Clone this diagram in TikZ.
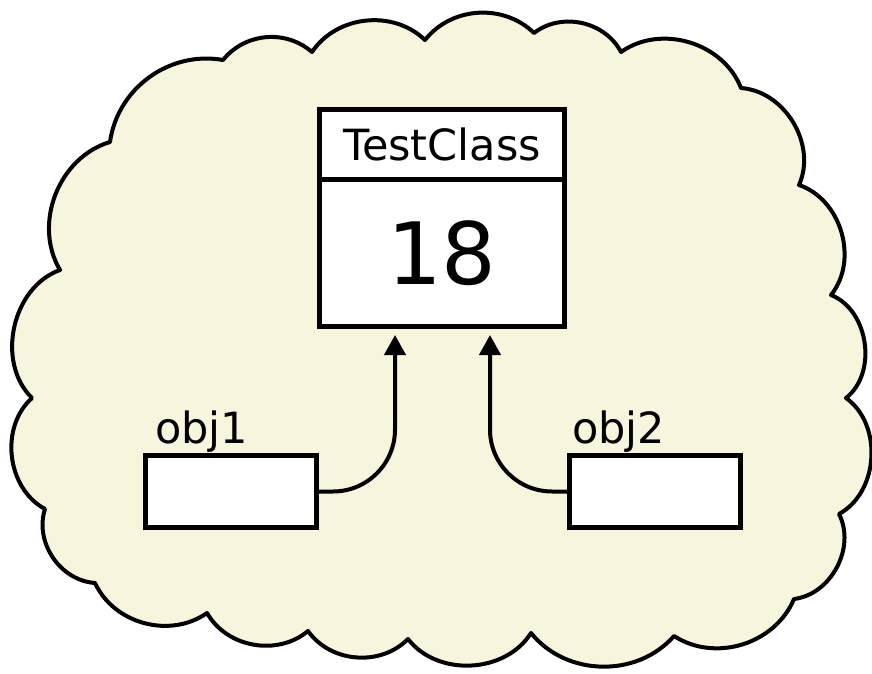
\documentclass[tikz,border=0pt]{standalone}
\usepackage{fontspec}
\setmainfont{DejaVu Sans}
\usetikzlibrary{arrows.meta, positioning}
\definecolor{cloudfill}{HTML}{F6F5DE}

\begin{document}
\begin{tikzpicture}[x=1pt, y=1pt,
				box/.style={draw, line width=5pt, fill=white, outer sep=0pt, inner sep=0pt},
				lbl/.style={inner sep=0pt, font=\fontsize{43}{50}\selectfont},
				puff/.style={bend left=#1}, puff/.default=52,
				arrow/.style={-{Triangle[length=20pt, width=21pt]}, line width=4pt, rounded corners=62pt}]
				\useasboundingbox (0,0) rectangle (872,673);
				
				% the cloud
				\draw[line width=4pt, fill=cloudfill, line join=round]
				  (223,613) to[puff=46] (312,621) to[puff=50] (425,633) to[puff=48] (534,640)
				  to[puff=50] (621,621) to[puff=52] (741,585) to[puff=55] (799,488)
				  to[puff=55] (831,378) to[puff=60] (846,275) to[puff=58] (839,159)
				  to[puff=55] (794,74) to[puff=50] (674,37) to[puff=50] (531,40)
				  to[puff=55] (408,34) to[puff=50] (308,42) to[puff=50] (207,60)
				  to[puff=50] (95,90) to[puff=52] (45,164) to[puff=55] (32,275)
				  to[puff=58] (60,403) to[puff=52] (110,531) to[puff=46] cycle;
				
				\node[box, minimum width=245pt, minimum height=70.5pt, font=\fontsize{43}{50}\selectfont] (tchead) at (442,528.25) {TestClass};
				\node[box, below=0pt of tchead, minimum width=245pt, minimum height=146.5pt, font=\fontsize{86}{90}\selectfont] (tcbody) {18};
				
				\node[box, minimum width=171pt, minimum height=72pt] (obj1) at (231,181.5) {};
				\node[box, minimum width=171pt, minimum height=72pt] (obj2) at (654.5,181.5) {};
				\node[lbl, anchor=base west] (obj1name) at (155,230) {obj1};
				\node[lbl, anchor=base west] (obj2name) at (572,230) {obj2};
				
				\draw[arrow] (obj1.east) -| ([xshift=-47pt, yshift=-8.5pt]tcbody.south);
				\draw[arrow] (obj2.west) -| ([xshift=48pt, yshift=-8.5pt]tcbody.south);
			\end{tikzpicture}
\end{document}
